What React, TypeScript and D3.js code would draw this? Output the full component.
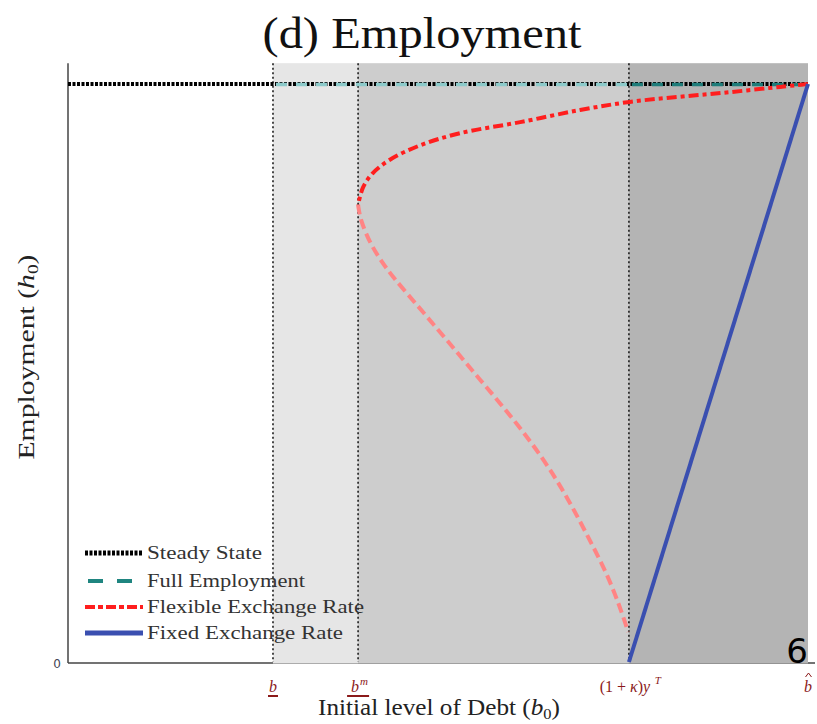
import React from "react";
import * as d3 from "d3";

// Debt levels (x) — in normalized units
const bLow = 0.277; // b underline
const bM = 0.392; // b^m
const bKappa = 0.758; // (1+kappa) y^T
const bHat = 1.0; // b hat
const xTickValues = [bLow, bM, bKappa, bHat];

// Employment levels
const steadyState = 1.0;
const fullEmployment = 1.0;

// Flexible exchange rate: upper (stable) branch [b0, h0]
const flexUpper: [number, number][] = [
  [1.0, 1.0], [0.962, 0.995], [0.895, 0.986], [0.827, 0.978], [0.759, 0.969],
  [0.692, 0.955], [0.611, 0.934], [0.53, 0.915], [0.476, 0.894], [0.435, 0.869],
  [0.412, 0.846], [0.399, 0.822], [0.392, 0.791],
];
// Flexible exchange rate: lower branch [b0, h0]
const flexLower: [number, number][] = [
  [0.392, 0.791], [0.395, 0.765], [0.408, 0.725], [0.422, 0.696], [0.439, 0.666],
  [0.466, 0.626], [0.512, 0.557], [0.557, 0.488], [0.603, 0.419], [0.644, 0.349],
  [0.677, 0.28], [0.705, 0.211], [0.728, 0.154], [0.746, 0.095], [0.757, 0.052],
];
// Fixed exchange rate [b0, h0]
const fixedLine: [number, number][] = [[bKappa, 0], [bHat, 1.0]];

const legendLabels = ["Steady State", "Full Employment", "Flexible Exchange Rate", "Fixed Exchange Rate"];
const legendWidths = [115, 158, 217, 196];

export default function App() {
  const W = 817, H = 724;
  const x = d3.scaleLinear().domain([0, 1]).range([68, 808]);
  const y = d3.scaleLinear().domain([0, 1]).range([662, 84]);
  const yTop = y(1.036);
  const y0 = y(0);
  const upperLine = d3.line<[number, number]>().x(d => x(d[0])).y(d => y(d[1])).curve(d3.curveCatmullRom.alpha(0.5));
  const lowerLine = d3.line<[number, number]>().x(d => x(d[0])).y(d => y(d[1])).curve(d3.curveBasis);
  const serif = "'Liberation Serif', 'DejaVu Serif', serif";
  const tickColor = "#8b1a1a";
  const legendY = [553, 581, 607, 633];
  const xh = x(bHat);

  return (
    <svg width={W} height={H} style={{ position: "absolute", left: 0, top: 0 }}>
      <rect x={0} y={0} width={W} height={H} fill="#fff" />
      {/* Title */}
      <text x={422} y={48} textAnchor="middle" fontFamily={serif} fontSize={44} fill="#111" textLength={319} lengthAdjust="spacingAndGlyphs">(d) Employment</text>

      {/* axes */}
      <line x1={x(0)} x2={x(0)} y1={yTop} y2={y0 + 1} stroke="#444" strokeWidth={1.5} />
      <line x1={x(0)} x2={x(bHat) + 7} y1={y0 + 1} y2={y0 + 1} stroke="#444" strokeWidth={1.5} />

      {/* shaded regions */}
      <rect x={x(bLow)} y={yTop} width={x(bM) - x(bLow)} height={y0 + 1.5 - yTop} fill="#e6e6e6" />
      <rect x={x(bM)} y={yTop} width={x(bKappa) - x(bM)} height={y0 + 1.5 - yTop} fill="#cdcdcd" />
      <rect x={x(bKappa)} y={yTop} width={x(bHat) - x(bKappa)} height={y0 + 1.5 - yTop} fill="#b4b4b4" />

      {/* vertical dotted lines */}
      {[bLow, bM, bKappa].map((v, i) => (
        <line key={i} x1={x(v)} x2={x(v)} y1={yTop} y2={y0} stroke="#111" strokeWidth={1.5} strokeDasharray="2,2.5" />
      ))}

      {/* steady state */}
      <line x1={x(0)} x2={x(bHat)} y1={y(steadyState)} y2={y(steadyState)} stroke="#000" strokeWidth={4} strokeDasharray="3,1.5" />
      {/* full employment */}
      <line x1={x(bLow)} x2={x(bKappa)} y1={y(fullEmployment) + 0.5} y2={y(fullEmployment) + 0.5} stroke="#8ccaca" strokeWidth={3.5} strokeDasharray="11,9" strokeDashoffset={-3} />
      <line x1={x(bKappa)} x2={x(bHat)} y1={y(fullEmployment) + 0.5} y2={y(fullEmployment) + 0.5} stroke="#1f7d7a" strokeWidth={3.5} strokeDasharray="11,9" strokeDashoffset={-3} />

      {/* flexible exchange rate */}
      <path d={lowerLine(flexLower) || ""} fill="none" stroke="#ff8484" strokeWidth={4} strokeDasharray="10,5" />
      <path d={upperLine(flexUpper) || ""} fill="none" stroke="#ff1e1e" strokeWidth={4} strokeDasharray="10,4,4,4" />

      {/* fixed exchange rate */}
      <path d={d3.line<[number, number]>().x(d => x(d[0])).y(d => y(d[1]))(fixedLine) || ""} fill="none" stroke="#3a4fb0" strokeWidth={4} />

      {/* legend */}
      <line x1={85} x2={143} y1={legendY[0]} y2={legendY[0]} stroke="#000" strokeWidth={5} strokeDasharray="3,1.5" />
      <line x1={88} x2={143} y1={legendY[1]} y2={legendY[1]} stroke="#1f8580" strokeWidth={4} strokeDasharray="15,14" />
      <line x1={85} x2={143} y1={legendY[2]} y2={legendY[2]} stroke="#ff1e1e" strokeWidth={4} strokeDasharray="10,3,5,3" />
      <line x1={85} x2={143} y1={legendY[3]} y2={legendY[3]} stroke="#3a4fb0" strokeWidth={5} />
      {legendLabels.map((t, i) => (
        <text key={t} x={147} y={legendY[i] + 6} fontFamily={serif} fontSize={18} fill="#333" textLength={legendWidths[i]} lengthAdjust="spacingAndGlyphs">{t}</text>
      ))}

      {/* y tick */}
      <text x={57} y={668} textAnchor="middle" fontFamily="'DejaVu Sans', sans-serif" fontSize={12} fill="#445">0</text>

      {/* x tick labels */}
      <g fontFamily={serif} fill={tickColor} fontStyle="italic">
        <text x={x(bLow)} y={692} textAnchor="middle" fontSize={16}>b</text>
        <line x1={x(bLow) - 5} x2={x(bLow) + 5} y1={696} y2={696} stroke={tickColor} strokeWidth={2} />
        <text x={x(bM) - 3} y={692} textAnchor="middle" fontSize={16}>b</text>
        <text x={x(bM) + 6} y={685} textAnchor="middle" fontSize={11}>m</text>
        <line x1={x(bM) - 11} x2={x(bM) + 11} y1={696} y2={696} stroke={tickColor} strokeWidth={2} />
        <text x={x(bKappa) - 4} y={692} textAnchor="middle" fontSize={16}>
          <tspan fontStyle="normal">(1 + </tspan>κ<tspan fontStyle="normal">)</tspan>y
        </text>
        <text x={x(bKappa) + 29} y={684} textAnchor="middle" fontSize={11}>T</text>
        <text x={xh} y={692} textAnchor="middle" fontSize={16}>b</text>
      </g>
      <path d={`M${xh - 2.5},${677} L${xh + 0.5},${673} L${xh + 3.5},${677}`} fill="none" stroke={tickColor} strokeWidth={1} />

      {/* axis labels */}
      <text x={439} y={715} textAnchor="middle" fontFamily={serif} fontSize={23} fill="#222" textLength={242} lengthAdjust="spacingAndGlyphs">
        Initial level of Debt (<tspan fontStyle="italic">b</tspan><tspan fontSize={15} dy={4}>0</tspan><tspan dy={-4}>)</tspan>
      </text>
      <text transform="translate(34,357) rotate(-90)" textAnchor="middle" fontFamily={serif} fontSize={23} fill="#222" textLength={205} lengthAdjust="spacingAndGlyphs">
        Employment (<tspan fontStyle="italic">h</tspan><tspan fontSize={15} dy={4}>0</tspan><tspan dy={-4}>)</tspan>
      </text>

      {/* stray page number */}
      <text x={808} y={663} textAnchor="end" fontFamily="'DejaVu Sans', sans-serif" fontSize={34} fill="#000">6</text>
    </svg>
  );
}
